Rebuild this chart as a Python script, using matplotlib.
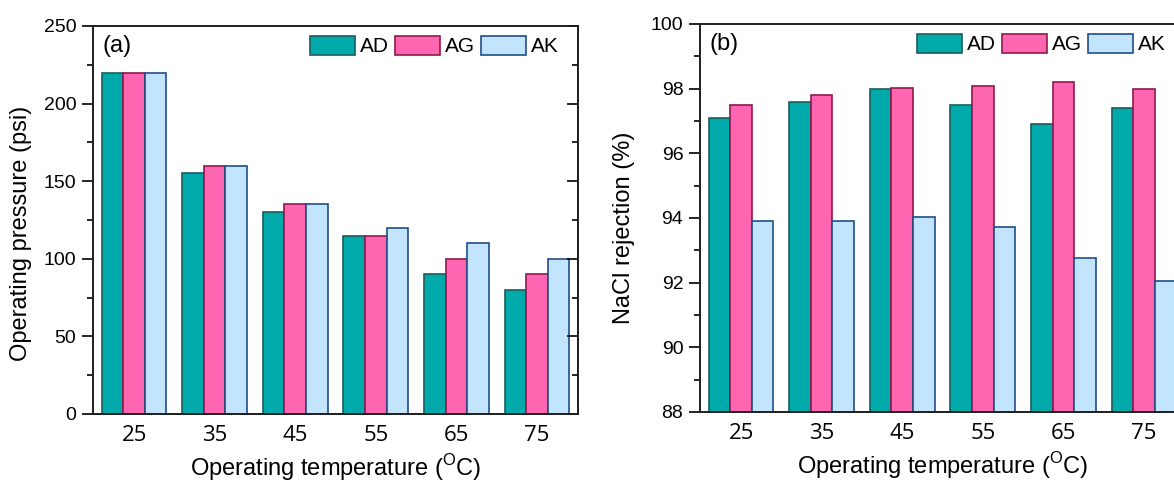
import numpy as np
import matplotlib
matplotlib.use('Agg')
import matplotlib.pyplot as plt
from matplotlib.ticker import MultipleLocator

plt.rcParams['font.family'] = ['Liberation Sans', 'DejaVu Sans']
plt.rcParams['mathtext.fontset'] = 'custom'
plt.rcParams['mathtext.rm'] = 'Liberation Sans'

#data
temperatures = ['25', '35', '45', '55', '65', '75']
series_names = ['AD', 'AG', 'AK']

pressure_AD = [220, 155, 130, 115, 90, 80]
pressure_AG = [220, 160, 135, 115, 100, 90]
pressure_AK = [220, 160, 135, 120, 110, 100]

rejection_AD = [97.10, 97.60, 98.00, 97.50, 96.90, 97.40]
rejection_AG = [97.51, 97.81, 98.03, 98.08, 98.22, 98.00]
rejection_AK = [93.90, 93.90, 94.04, 93.73, 92.75, 92.06]

#style
fill_colors = ['#00AAAA', '#FF66B2', '#C2E4FC']
edge_colors = ['#1B5E5C', '#8E1A4C', '#1F4E85']
bar_width = 0.268

xlabel_text = r'Operating temperature ($^{\mathrm{O}}$C)'


def DrawPanel(ax, values_list, ylim, major, minor, ylabel, tag, ylabel_coords):

    x = np.arange(len(temperatures))

    for k in range(len(values_list)):

        ax.bar(x + (k - 1) * bar_width, values_list[k], bar_width,
               bottom=0, color=fill_colors[k], edgecolor=edge_colors[k],
               linewidth=1.2, label=series_names[k], zorder=2)

    ax.set_xlim(-0.51, 5.51)
    ax.set_ylim(*ylim)

    ax.set_xticks(x)
    ax.set_xticklabels(temperatures, family=['Open Sans', 'DejaVu Sans'], fontsize=16)
    ax.tick_params(axis='x', length=0, pad=8)

    ax.yaxis.set_major_locator(MultipleLocator(major))
    ax.yaxis.set_minor_locator(MultipleLocator(minor))
    ax.tick_params(axis='y', which='major', length=8, width=1.2, labelsize=14, direction='out', pad=4)
    ax.tick_params(axis='y', which='minor', length=4, width=1.2, direction='out')

    #mirror ticks on right spine
    twin = ax.twinx()
    twin.set_ylim(*ylim)
    twin.yaxis.set_major_locator(MultipleLocator(major))
    twin.yaxis.set_minor_locator(MultipleLocator(minor))
    twin.tick_params(axis='y', which='major', length=8, width=1.2, direction='in', labelright=False)
    twin.tick_params(axis='y', which='minor', length=4, width=1.2, direction='in')

    for this_ax in [ax, twin]:
        for spine in this_ax.spines.values():
            spine.set_linewidth(1.3)
            spine.set_color('#222222')

    ax.set_xlabel(xlabel_text, fontsize=17, va='top')
    ax.xaxis.set_label_coords(0.5, -0.098)
    ax.set_ylabel(ylabel, fontsize=17)
    ax.yaxis.set_label_coords(*ylabel_coords)

    ax.text(0.019, 0.978, tag, transform=ax.transAxes, fontsize=17, va='top', ha='left')

    ax.legend(loc='upper left', bbox_to_anchor=(0.447, 0.975), ncol=3, frameon=False,
              fontsize=15, handlelength=2.15, handleheight=1.05, handletextpad=0.25,
              columnspacing=0.3, borderpad=0, borderaxespad=0)


fig = plt.figure(figsize=(11.74, 4.82), dpi=100)

ax_a = fig.add_axes([93 / 1174, 68 / 482, 485 / 1174, 388 / 482])
ax_b = fig.add_axes([700 / 1174, 70 / 482, 485 / 1174, 388 / 482])

DrawPanel(ax_a, [pressure_AD, pressure_AG, pressure_AK], (0, 250), 50, 25,
          'Operating pressure (psi)', '(a)', (-0.125, 0.466))
DrawPanel(ax_b, [rejection_AD, rejection_AG, rejection_AK], (88, 100), 2, 1,
          'NaCl rejection (%)', '(b)', (-0.134, 0.475))

fig.savefig('out.png', dpi=100)
plt.close()
